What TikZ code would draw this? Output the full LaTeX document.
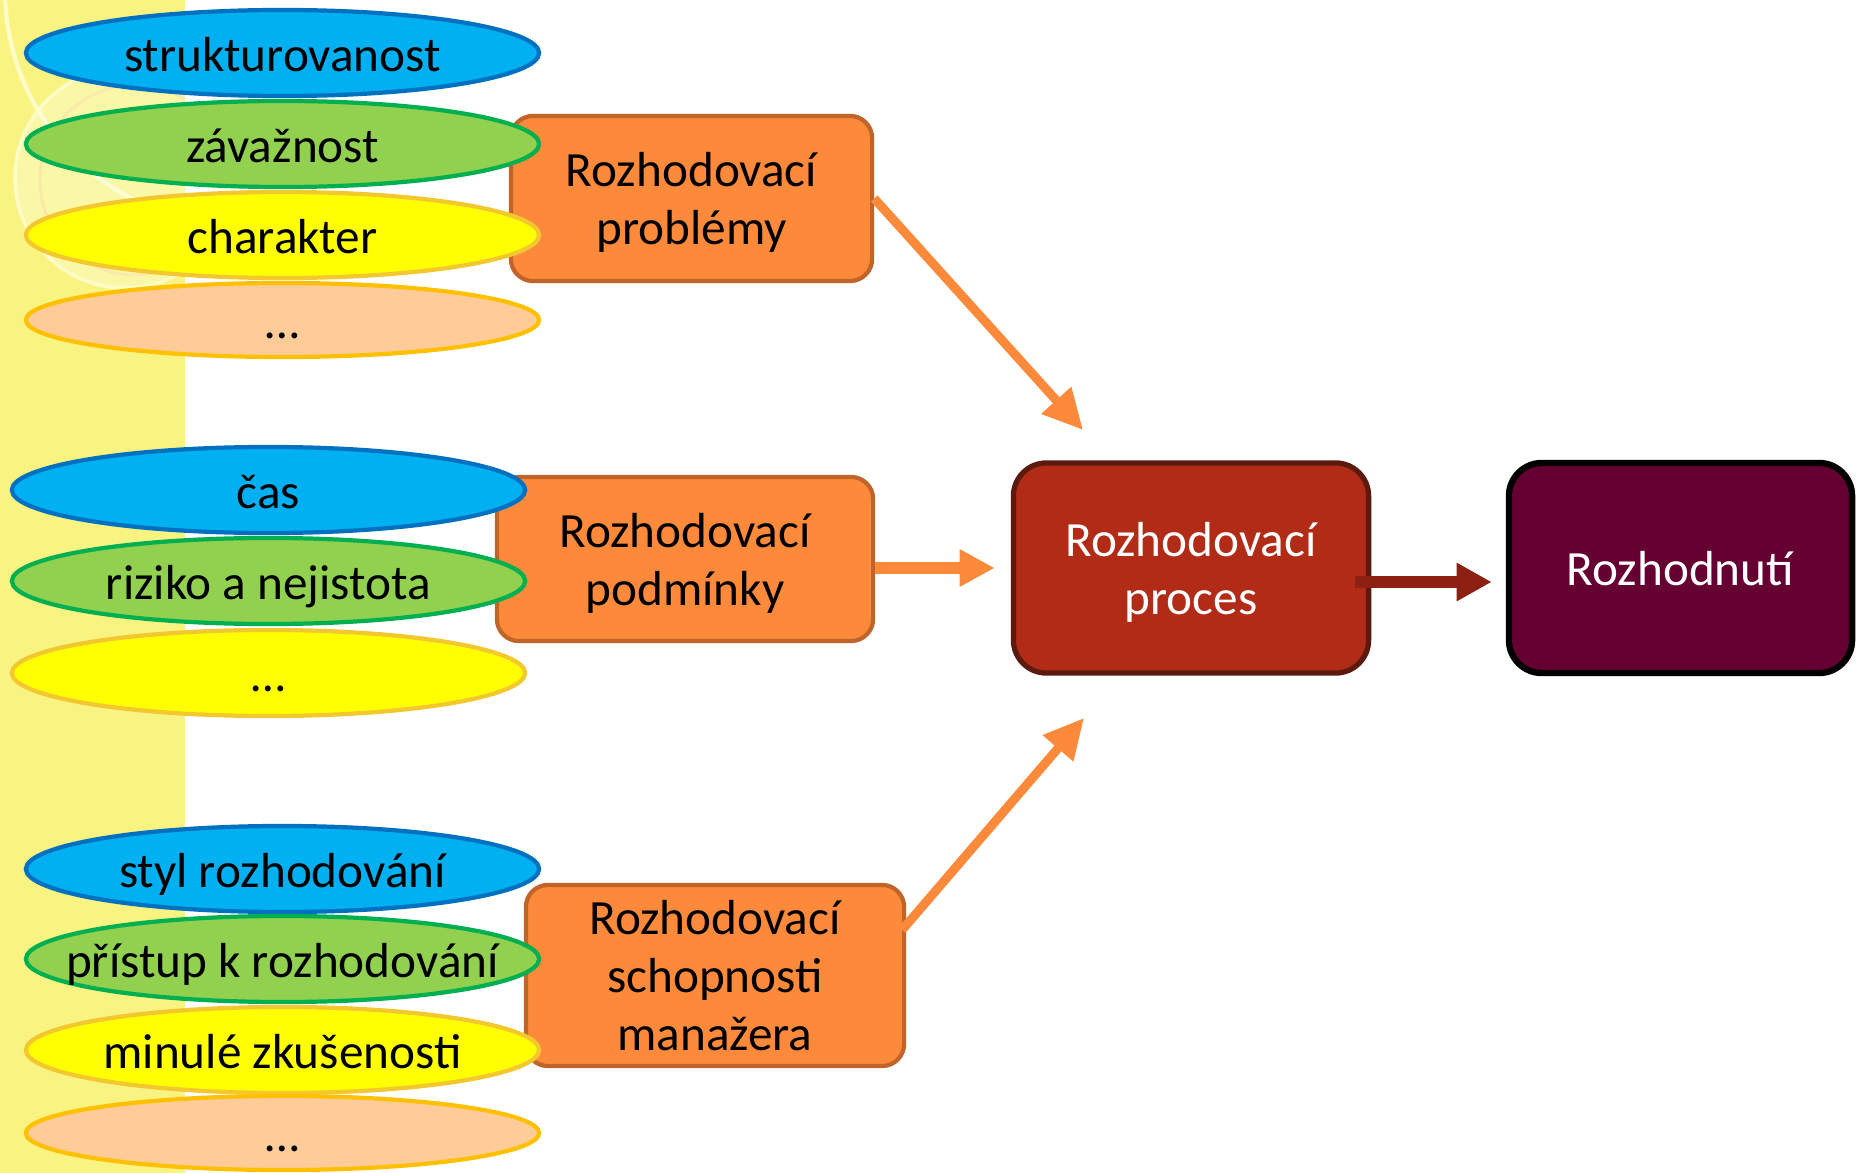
\documentclass[tikz,border=0pt]{standalone}
\usepackage{fontspec}
\setmainfont{Carlito}
\usetikzlibrary{arrows.meta,shapes.geometric,calc}

\definecolor{strip}{RGB}{249,244,130}
\definecolor{stripline}{RGB}{255,252,200}
\definecolor{blu}{RGB}{0,176,240}
\definecolor{bluD}{RGB}{0,112,192}
\definecolor{grn}{RGB}{146,208,80}
\definecolor{grnD}{RGB}{0,176,80}
\definecolor{yel}{RGB}{255,255,0}
\definecolor{yelD}{RGB}{242,200,46}
\definecolor{pea}{RGB}{255,204,153}
\definecolor{peaD}{RGB}{255,192,0}
\definecolor{ora}{RGB}{253,138,58}
\definecolor{oraD}{RGB}{192,100,42}
\definecolor{proc}{RGB}{178,43,23}
\definecolor{procD}{RGB}{92,26,14}
\definecolor{dec}{RGB}{102,0,51}
\definecolor{darr}{RGB}{140,32,18}

\begin{document}
\begin{tikzpicture}
[x=0.01cm,y=-0.01cm
,font=\fontsize{14}{16.5}\selectfont
,el/.style={ellipse,draw,line width=1.2pt,inner xsep=-1.6cm,inner ysep=0pt,text height=0.42cm,text depth=0.06cm,minimum width=5.13cm,minimum height=0.86cm}
,eb/.style={el,fill=blu,draw=bluD}
,eg/.style={el,fill=grn,draw=grnD}
,ey/.style={el,fill=yel,draw=yelD}
,ep/.style={el,fill=pea,draw=peaD,minimum height=0.74cm}
,fb/.style={rectangle,rounded corners=0.22cm,draw=oraD,fill=ora,line width=1.2pt,inner sep=0pt,align=center,text depth=0pt}
,pb/.style={rectangle,rounded corners=0.33cm,line width=1.5pt,inner sep=0pt,align=center,text=white,text depth=0pt,minimum width=3.55cm,minimum height=2.1cm}
,oa/.style={draw=ora,line width=0.09cm,-{Triangle[length=0.4cm,width=0.38cm]}}
,ma/.style={draw=ora,line width=0.11cm,-{Triangle[length=0.35cm,width=0.35cm]}}
,da/.style={draw=darr,line width=0.115cm,-{Triangle[length=0.35cm,width=0.36cm]}}]
\useasboundingbox (0,0) rectangle (1857,1173);
% left strip
\fill[strip] (0,0) rectangle (185,1173);
\begin{scope}
\clip (0,0) rectangle (185,1173);
\draw[stripline,line width=1.2pt] (240,-10) circle (235);
\fill[white,opacity=0.3] (125,178) circle (110);
\draw[stripline,line width=1pt] (125,178) circle (110);
\draw[yelD!40,line width=0.8pt] (135,180) circle (95);
\end{scope}
% factor boxes
\node[fb,minimum width=3.61cm,minimum height=1.65cm] (prob) at (691.5,198.5) {Rozhodovací\\problémy};
\node[fb,minimum width=3.76cm,minimum height=1.64cm] (podm) at (685,559) {Rozhodovací\\podmínky};
\node[fb,minimum width=3.78cm,minimum height=1.81cm] (schop) at (715,975.5) {Rozhodovací\\schopnosti\\manažera};
\node[pb,fill=proc,draw=procD] (proc) at (1191,568) {Rozhodovací\\proces};
\node[pb,fill=dec,draw=black,line width=1.8pt,minimum width=3.43cm] (rozh) at (1680.5,568) {Rozhodnutí};
% ellipses
\node[eb] (e11) at (282.5,53) {strukturovanost};
\node[eg] (e12) at (282.5,144) {závažnost};
\node[ey] (e13) at (282.5,235) {charakter};
\node[ep] (e14) at (282.5,320) {\dots};
\node[eb] (e21) at (268.5,490) {čas};
\node[eg] (e22) at (268.5,581) {riziko a nejistota};
\node[ey] (e23) at (268.5,673) {\dots};
\node[eb] (e31) at (282.5,869) {styl rozhodování};
\node[eg] (e32) at (282.5,959) {přístup k rozhodování};
\node[ey] (e33) at (282.5,1050) {minulé zkušenosti};
\node[ep] (e34) at (282.5,1133) {\dots};
% arrows
\coordinate (t1) at (1083,430);
\coordinate (t3) at (1084,718);
\draw[oa] (prob.east) -- (t1);
\draw[ma] (podm.east |- 0,568) -- ($(proc.west |- 0,568)+(-16,0)$);
\draw[oa] ($(schop.north east)+(-4,47)$) -- (t3);
\draw[da] ($(proc.east |- 0,582)+(-16,0)$) -- ($(rozh.west |- 0,582)+(-14,0)$);
\end{tikzpicture}
\end{document}
